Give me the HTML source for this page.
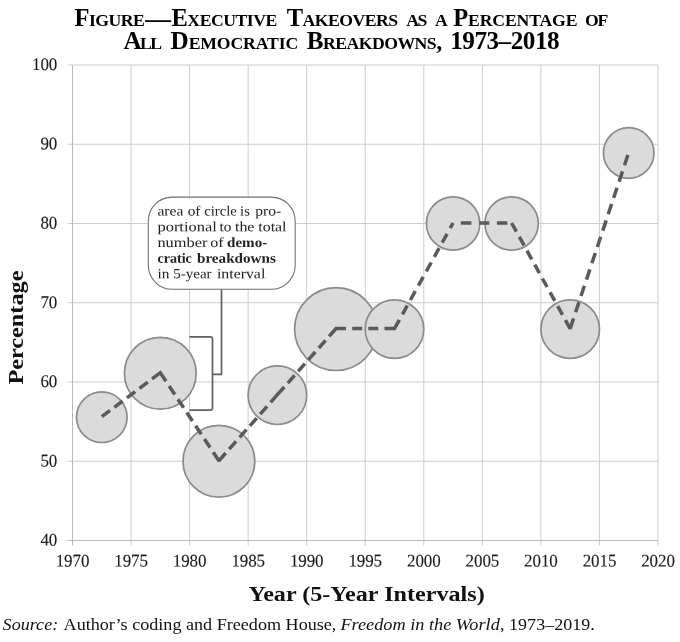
<!DOCTYPE html>
<html><head><meta charset="utf-8"><title>Figure</title>
<style>
html,body{margin:0;padding:0;background:#fff;}
body{width:680px;height:642px;overflow:hidden;}
svg{display:block;}
text{font-family:"Liberation Serif","DejaVu Serif",serif;fill:#111;}
.t{font-weight:bold;fill:#000;}
.ax{font-size:17.8px;fill:#1a1a1a;letter-spacing:-0.1px;stroke:#1a1a1a;stroke-width:0.12px;}
.lbl{font-weight:bold;font-size:21.2px;fill:#111;}
.note{font-size:14px;fill:#222;}
</style></head><body>
<svg width="680" height="642" viewBox="0 0 680 642">
<rect width="680" height="642" fill="#fff"/>
<g stroke="#cdcdcd" stroke-width="1" fill="none"><line x1="72.50" y1="65" x2="72.50" y2="545.5"/><line x1="131.05" y1="65" x2="131.05" y2="545.5"/><line x1="189.60" y1="65" x2="189.60" y2="545.5"/><line x1="248.15" y1="65" x2="248.15" y2="545.5"/><line x1="306.70" y1="65" x2="306.70" y2="545.5"/><line x1="365.25" y1="65" x2="365.25" y2="545.5"/><line x1="423.80" y1="65" x2="423.80" y2="545.5"/><line x1="482.35" y1="65" x2="482.35" y2="545.5"/><line x1="540.90" y1="65" x2="540.90" y2="545.5"/><line x1="599.45" y1="65" x2="599.45" y2="545.5"/><line x1="658.00" y1="65" x2="658.00" y2="545.5"/><line x1="67.5" y1="540.50" x2="658" y2="540.50"/><line x1="67.5" y1="461.25" x2="658" y2="461.25"/><line x1="67.5" y1="382.00" x2="658" y2="382.00"/><line x1="67.5" y1="302.75" x2="658" y2="302.75"/><line x1="67.5" y1="223.50" x2="658" y2="223.50"/><line x1="67.5" y1="144.25" x2="658" y2="144.25"/><line x1="67.5" y1="65.00" x2="658" y2="65.00"/></g>
<g stroke="#b9b9b9" stroke-width="1.05"><line x1="72.5" y1="65" x2="72.5" y2="545.5"/><line x1="67.5" y1="540.5" x2="658" y2="540.5"/></g>
<g fill="#dbdbdc" stroke="#8b8b8b" stroke-width="1.7"><circle cx="101.8" cy="417.2" r="25.3"/><circle cx="160.3" cy="373.2" r="35.9"/><circle cx="218.9" cy="461.2" r="35.9"/><circle cx="277.4" cy="395.2" r="29.3"/><circle cx="336.0" cy="329.1" r="41.4"/><circle cx="394.5" cy="329.1" r="29.3"/><circle cx="453.1" cy="223.5" r="26.7"/><circle cx="511.6" cy="223.5" r="26.7"/><circle cx="570.2" cy="329.1" r="29.3"/><circle cx="628.7" cy="153.0" r="25.3"/></g>
<g fill="none" stroke="#606060" stroke-width="1.7"><path d="M189.5 336.9 H210.3 Q212.5 336.9 212.5 339.1 V408 Q212.5 410.2 210.3 410.2 H189.5"/><path d="M212.5 374.4 H221.5 V289.5"/></g>
<path d="M101.8 416.7 L110.1 410.4 M114.3 407.3 L122.6 401.0 M126.9 397.8 L135.2 391.6 M139.5 388.4 L147.8 382.1 M152.0 378.9 L160.3 372.7 L166.0 381.2 M169.1 386.0 L174.8 394.5 M178.0 399.2 L183.6 407.7 M186.8 412.5 L192.4 421.0 M195.6 425.7 L201.2 434.2 M204.4 439.0 L210.1 447.5 M213.2 452.3 L218.9 460.8 L225.7 453.0 M229.2 449.1 L236.1 441.4 M239.6 437.4 L246.4 429.7 M249.9 425.8 L256.7 418.1 M260.2 414.1 L267.1 406.4 M270.6 402.4 L277.4 394.7 L284.3 387.0 M287.8 383.1 L294.6 375.3 M298.1 371.4 L304.9 363.7 M308.5 359.7 L315.3 352.0 M318.8 348.0 L325.6 340.3 M329.1 336.4 L336.0 328.6 L346.0 328.6 M352.2 328.6 L362.2 328.6 M368.3 328.6 L378.3 328.6 M384.5 328.6 L394.5 328.6 L399.4 319.9 M402.5 314.3 L407.3 305.5 M410.4 300.0 L415.3 291.2 M418.4 285.6 L423.2 276.9 M426.3 271.3 L431.2 262.5 M434.3 256.9 L439.1 248.2 M442.2 242.6 L447.1 233.8 M450.2 228.2 L453.1 223.0 M460.8 223.0 L471.4 223.0 M479.3 223.0 L489.3 223.0 M496.9 223.0 L507.4 223.0 M511.6 223.0 L516.4 231.6 M519.3 236.9 L524.1 245.4 M527.0 250.7 L531.7 259.3 M534.7 264.6 L539.4 273.2 M542.4 278.5 L547.1 287.0 M550.1 292.3 L554.8 300.9 M557.7 306.2 L562.5 314.8 M565.4 320.1 L570.2 328.6 L573.6 318.4 M575.6 312.3 L579.0 302.1 M581.0 296.0 L584.4 285.7 M586.5 279.6 L589.9 269.4 M591.9 263.3 L595.3 253.0 M597.3 247.0 L600.7 236.7 M602.8 230.6 L606.2 220.4 M608.2 214.3 L611.6 204.0 M613.6 197.9 L617.0 187.7 M619.1 181.6 L622.5 171.4 M624.5 165.3 L627.9 155.0" fill="none" stroke="#5a5a5a" stroke-width="3.5" stroke-linejoin="miter" stroke-miterlimit="1.55"/>
<rect x="148.3" y="197.1" width="146.9" height="92.2" rx="24" ry="24" fill="#fff" stroke="#6e6e6e" stroke-width="1.05"/>
<text class="note" transform="translate(157.4,215.6) rotate(0.04)" textLength="26.0" lengthAdjust="spacingAndGlyphs">area</text><text class="note" transform="translate(187.7,215.6) rotate(0.04)" textLength="12.7" lengthAdjust="spacingAndGlyphs">of</text><text class="note" transform="translate(204.3,215.6) rotate(0.04)" textLength="32.5" lengthAdjust="spacingAndGlyphs">circle</text><text class="note" transform="translate(240.1,215.6) rotate(0.04)" textLength="9.7" lengthAdjust="spacingAndGlyphs">is</text><text class="note" transform="translate(255.2,215.6) rotate(0.04)" textLength="25.9" lengthAdjust="spacingAndGlyphs">pro-</text>
<text class="note" transform="translate(157.4,231.3) rotate(0.04)" textLength="59.5" lengthAdjust="spacingAndGlyphs">portional</text><text class="note" transform="translate(219.6,231.3) rotate(0.04)" textLength="11.9" lengthAdjust="spacingAndGlyphs">to</text><text class="note" transform="translate(235.0,231.3) rotate(0.04)" textLength="19.4" lengthAdjust="spacingAndGlyphs">the</text><text class="note" transform="translate(258.3,231.3) rotate(0.04)" textLength="28.2" lengthAdjust="spacingAndGlyphs">total</text>
<text class="note" transform="translate(157.4,247.0) rotate(0.04)" textLength="50.1" lengthAdjust="spacingAndGlyphs">number</text><text class="note" transform="translate(210.2,247.0) rotate(0.04)" textLength="13.4" lengthAdjust="spacingAndGlyphs">of</text><text class="note" font-weight="bold" transform="translate(227.0,247.0) rotate(0.04)" textLength="40.2" lengthAdjust="spacingAndGlyphs">demo-</text>
<text class="note" font-weight="bold" transform="translate(157.4,262.7) rotate(0.04)" textLength="34.4" lengthAdjust="spacingAndGlyphs">cratic</text><text class="note" font-weight="bold" transform="translate(197.0,262.7) rotate(0.04)" textLength="78.8" lengthAdjust="spacingAndGlyphs">breakdowns</text>
<text class="note" transform="translate(157.4,278.3) rotate(0.04)" textLength="11.9" lengthAdjust="spacingAndGlyphs">in</text><text class="note" transform="translate(173.3,278.3) rotate(0.04)" textLength="38.3" lengthAdjust="spacingAndGlyphs">5-year</text><text class="note" transform="translate(216.9,278.3) rotate(0.04)" textLength="48.4" lengthAdjust="spacingAndGlyphs">interval</text>
<text class="t" x="74.5" y="25.9" textLength="70.2" lengthAdjust="spacing"><tspan font-size="24.5px">F</tspan><tspan font-size="17.7px">IGURE</tspan></text><text class="t" x="171.5" y="25.9" textLength="105.8" lengthAdjust="spacing"><tspan font-size="24.5px">E</tspan><tspan font-size="17.7px">XECUTIVE</tspan></text><text class="t" x="286.8" y="25.9" textLength="111.4" lengthAdjust="spacing"><tspan font-size="24.5px">T</tspan><tspan font-size="17.7px">AKEOVERS</tspan></text><text class="t" x="406.2" y="25.9" textLength="21.2" lengthAdjust="spacing"><tspan font-size="17.7px">AS</tspan></text><text class="t" x="434.9" y="25.9" textLength="11.3" lengthAdjust="spacing"><tspan font-size="17.7px">A</tspan></text><text class="t" x="453.2" y="25.9" textLength="124.3" lengthAdjust="spacing"><tspan font-size="24.5px">P</tspan><tspan font-size="17.7px">ERCENTAGE</tspan></text><text class="t" x="584.9" y="25.9" textLength="23.5" lengthAdjust="spacing"><tspan font-size="17.7px">OF</tspan></text><text class="t" x="145.3" y="26.6" font-size="25.8px">—</text>
<text class="t" x="123.5" y="48.5" textLength="38.5" lengthAdjust="spacing"><tspan font-size="25.2px">A</tspan><tspan font-size="17.7px">LL</tspan></text><text class="t" x="170.6" y="48.5" textLength="127.6" lengthAdjust="spacing"><tspan font-size="25.2px">D</tspan><tspan font-size="17.7px">EMOCRATIC</tspan></text><text class="t" x="306.7" y="48.5" textLength="129.9" lengthAdjust="spacing"><tspan font-size="25.2px">B</tspan><tspan font-size="17.7px">REAKDOWNS</tspan></text><text class="t" x="450.2" y="48.5" textLength="109.4" lengthAdjust="spacing"><tspan font-size="25.2px">1973–2018</tspan></text><text class="t" x="436.3" y="48.5" font-size="24px">,</text>
<text class="ax" transform="translate(57.2,545.6) rotate(0.05) scale(0.955,1)" text-anchor="end">40</text><text class="ax" transform="translate(57.2,466.4) rotate(0.05) scale(0.955,1)" text-anchor="end">50</text><text class="ax" transform="translate(57.2,387.1) rotate(0.05) scale(0.955,1)" text-anchor="end">60</text><text class="ax" transform="translate(57.2,307.9) rotate(0.05) scale(0.955,1)" text-anchor="end">70</text><text class="ax" transform="translate(57.2,228.6) rotate(0.05) scale(0.955,1)" text-anchor="end">80</text><text class="ax" transform="translate(57.2,149.3) rotate(0.05) scale(0.955,1)" text-anchor="end">90</text><text class="ax" transform="translate(57.2,70.1) rotate(0.05) scale(0.955,1)" text-anchor="end">100</text>
<text class="ax" transform="translate(72.5,566.4) rotate(0.05) scale(0.955,1)" text-anchor="middle">1970</text><text class="ax" transform="translate(131.1,566.4) rotate(0.05) scale(0.955,1)" text-anchor="middle">1975</text><text class="ax" transform="translate(189.6,566.4) rotate(0.05) scale(0.955,1)" text-anchor="middle">1980</text><text class="ax" transform="translate(248.2,566.4) rotate(0.05) scale(0.955,1)" text-anchor="middle">1985</text><text class="ax" transform="translate(306.7,566.4) rotate(0.05) scale(0.955,1)" text-anchor="middle">1990</text><text class="ax" transform="translate(365.2,566.4) rotate(0.05) scale(0.955,1)" text-anchor="middle">1995</text><text class="ax" transform="translate(423.8,566.4) rotate(0.05) scale(0.955,1)" text-anchor="middle">2000</text><text class="ax" transform="translate(482.4,566.4) rotate(0.05) scale(0.955,1)" text-anchor="middle">2005</text><text class="ax" transform="translate(540.9,566.4) rotate(0.05) scale(0.955,1)" text-anchor="middle">2010</text><text class="ax" transform="translate(599.5,566.4) rotate(0.05) scale(0.955,1)" text-anchor="middle">2015</text><text class="ax" transform="translate(658.0,566.4) rotate(0.05) scale(0.955,1)" text-anchor="middle">2020</text>
<text class="lbl" transform="translate(23.4,384.6) rotate(-90)" textLength="114" lengthAdjust="spacingAndGlyphs">Percentage</text>
<text class="lbl" x="248.4" y="600.6" textLength="236.3" lengthAdjust="spacingAndGlyphs">Year (5-Year Intervals)</text>
<g font-size="17.0px" fill="#111"><text x="2.6" y="629.75" font-style="italic" textLength="55.6" lengthAdjust="spacingAndGlyphs">Source:</text><text x="63.6" y="629.75" textLength="272.8" lengthAdjust="spacingAndGlyphs">Author’s coding and Freedom House,</text><text x="340.4" y="629.75" font-style="italic" textLength="159.4" lengthAdjust="spacingAndGlyphs">Freedom in the World</text><text x="500.1" y="629.75" textLength="94.6" lengthAdjust="spacingAndGlyphs">, 1973–2019.</text></g>
</svg></body></html>
